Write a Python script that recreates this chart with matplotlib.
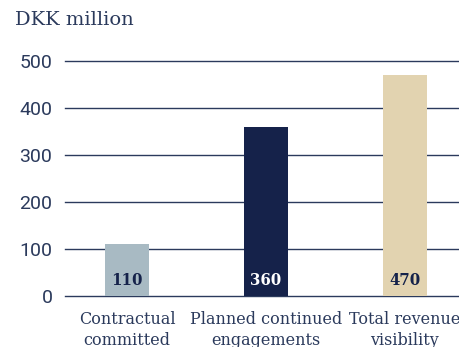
import matplotlib.pyplot as plt

categories = ["Contractual\ncommitted", "Planned continued\nengagements", "Total revenue\nvisibility"]
values = [110, 360, 470]
bar_colors = ["#a8bac3", "#15224a", "#e2d3b0"]
label_colors = ["#15224a", "#ffffff", "#15224a"]
yticks = [0, 100, 200, 300, 400, 500]

navy = "#2b3a5c"

fig = plt.figure(figsize=(4.59, 3.47), dpi=100)
ax = fig.add_axes([65 / 459, 51 / 347, 394 / 459, 235 / 347])

x = list(range(len(values)))
ax.bar(x, values, width=0.32, color=bar_colors, zorder=3)

for xi, v, c in zip(x, values, label_colors):
    ax.text(xi, 34, str(v), ha="center", va="center", color=c,
            fontsize=12, fontweight="bold", family="DejaVu Serif",
            fontstretch="condensed", zorder=4)

ax.set_ylim(0, 500)
ax.set_xlim(-0.446, 2.39)
ax.set_yticks(yticks)
ax.set_yticklabels([str(t) for t in yticks], fontsize=14, color=navy, family="Roboto")
ax.set_xticks(x)
ax.set_xticklabels(categories, fontsize=11.5, color=navy, family="DejaVu Serif",
                   linespacing=1.25)
ax.tick_params(axis="y", length=0, pad=9)
ax.tick_params(axis="x", length=0, pad=11)

for t in yticks:
    ax.axhline(t, color=navy, linewidth=1, zorder=1, clip_on=False)

for s in ax.spines.values():
    s.set_visible(False)

fig.text(15 / 459, 1 - 20 / 347, "DKK million", fontsize=14, color=navy,
         family="DejaVu Serif", va="center", ha="left")

fig.savefig("out.png", dpi=100)
